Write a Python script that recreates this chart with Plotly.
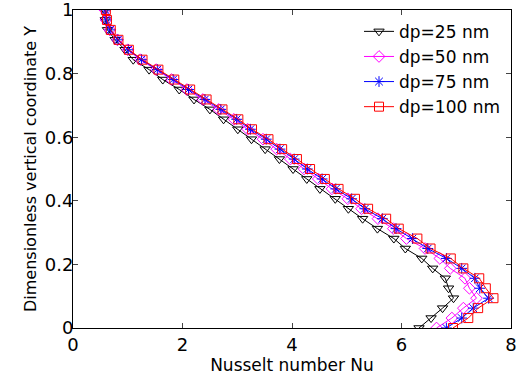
import plotly.graph_objects as go

Y = [k / 32 for k in range(33)]

nu_25 = [6.32, 6.54, 6.75, 6.95, 6.86, 6.80, 6.57, 6.37, 6.07, 5.86, 5.56, 5.29, 5.03, 4.79, 4.51, 4.27,
         4.02, 3.77, 3.51, 3.26, 3.01, 2.75, 2.50, 2.21, 1.94, 1.64, 1.39, 1.10, 0.95, 0.77, 0.63, 0.59, 0.58]
nu_50 = [6.64, 6.92, 7.13, 7.37, 7.24, 7.16, 6.89, 6.70, 6.43, 6.09, 5.85, 5.57, 5.27, 5.02, 4.73, 4.48,
         4.22, 3.97, 3.72, 3.47, 3.19, 2.94, 2.66, 2.37, 2.08, 1.80, 1.52, 1.23, 1.00, 0.81, 0.67, 0.60, 0.58]
nu_75 = [6.82, 7.10, 7.31, 7.59, 7.43, 7.34, 7.10, 6.82, 6.48, 6.20, 5.90, 5.65, 5.33, 5.09, 4.80, 4.55,
         4.28, 4.04, 3.78, 3.53, 3.24, 2.99, 2.70, 2.41, 2.11, 1.83, 1.54, 1.25, 1.01, 0.82, 0.68, 0.61, 0.59]
nu_100 = [6.94, 7.22, 7.40, 7.68, 7.54, 7.42, 7.13, 6.90, 6.53, 6.29, 5.95, 5.72, 5.39, 5.15, 4.85, 4.60,
          4.33, 4.09, 3.82, 3.57, 3.27, 3.02, 2.73, 2.44, 2.14, 1.85, 1.56, 1.27, 1.02, 0.83, 0.69, 0.62, 0.60]

series = [
    ("dp=25 nm", nu_25, "black", "triangle-down-open"),
    ("dp=50 nm", nu_50, "magenta", "diamond-open"),
    ("dp=75 nm", nu_75, "blue", "asterisk-open"),
    ("dp=100 nm", nu_100, "red", "square-open"),
]

x_ticks = [0, 2, 4, 6, 8]
y_ticks = [0, 0.2, 0.4, 0.6, 0.8, 1]
y_tick_text = ["0", "0.2", "0.4", "0.6", "0.8", "1"]

fig = go.Figure()
for name, xs, col, sym in series:
    fig.add_trace(go.Scatter(
        x=xs, y=Y, mode="lines+markers", name=name,
        line=dict(color=col, width=1),
        marker=dict(symbol=sym, size=9, color=col, line=dict(color=col, width=1)),
    ))

font = "DejaVu Sans, sans-serif"
fig.update_layout(
    width=519, height=381,
    margin=dict(l=73, r=8, t=10, b=53),
    paper_bgcolor="white", plot_bgcolor="white",
    font=dict(family=font, size=17, color="black"),
    showlegend=True,
    legend=dict(x=0.653, y=0.988, xanchor="left", yanchor="top",
                bgcolor="rgba(255,255,255,0)", borderwidth=0,
                font=dict(size=17), tracegroupgap=0, itemwidth=30),
)
fig.update_xaxes(
    range=[0, 8], tickvals=x_ticks, ticks="inside", ticklen=5,
    showline=True, linecolor="black", linewidth=1, mirror="ticks",
    showgrid=False, zeroline=False, automargin=False, ticklabeloverflow="allow",
    title=dict(text="Nusselt number Nu", font=dict(size=17), standoff=4),
    tickfont=dict(size=18),
)
fig.update_yaxes(
    range=[0, 1], tickvals=y_ticks, ticktext=y_tick_text, ticks="inside", ticklen=5,
    showline=True, linecolor="black", linewidth=1, mirror="ticks",
    showgrid=False, zeroline=False, automargin=False, ticklabeloverflow="allow",
    ticklabelstandoff=-5,
    title=dict(text="Dimensionless vertical coordinate Y", font=dict(size=16), standoff=4),
    tickfont=dict(size=18),
)

fig.write_html("out.html", config={"displayModeBar": False},
               post_script="document.body.style.margin='0';document.body.style.overflow='hidden';")
